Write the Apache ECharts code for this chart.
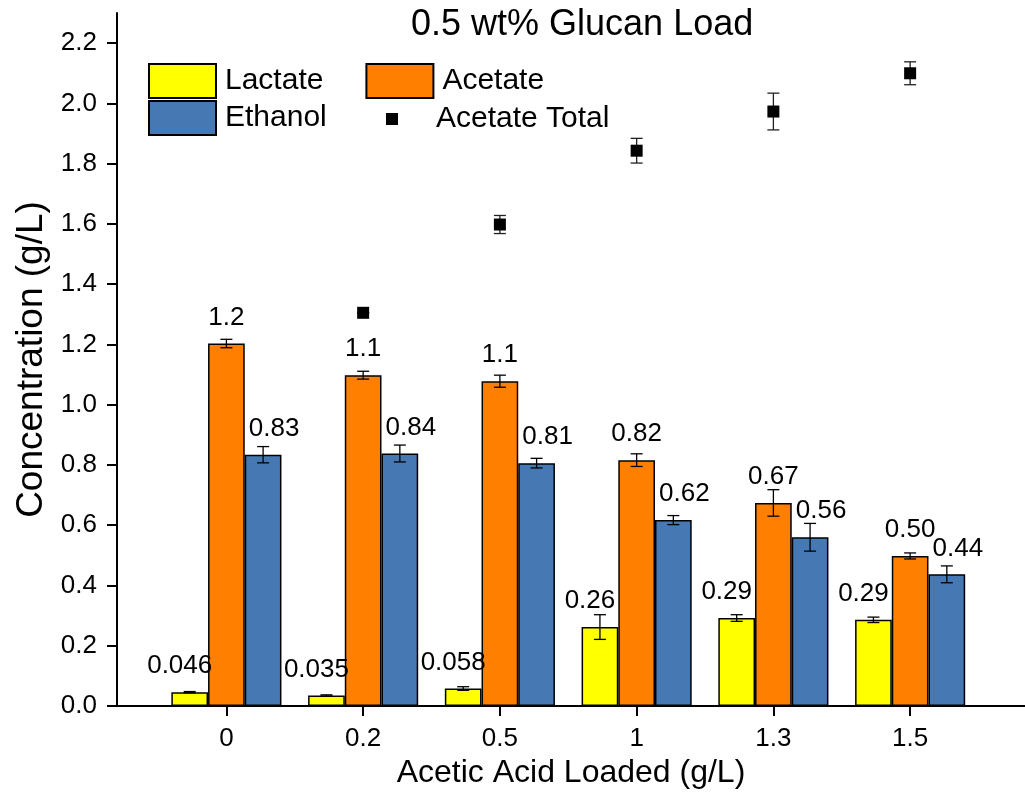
<!DOCTYPE html>
<html>
<head>
<meta charset="utf-8">
<title>0.5 wt% Glucan Load</title>
<script src="https://cdn.jsdelivr.net/npm/echarts@6/dist/echarts.min.js"></script>
<style>
  html, body { margin: 0; padding: 0; background: #fff; }
  #chart { width: 1025px; height: 795px; }
</style>
</head>
<body>
<div id="chart"></div>
<script>
// Acetic acid loading levels (g/L)
const categories = ['0', '0.2', '0.5', '1', '1.3', '1.5'];

// Product concentrations (g/L) and their standard deviations
const lactate       = [0.046, 0.035, 0.058, 0.262, 0.292, 0.286];
const lactateErr    = [0.002, 0.002, 0.006, 0.041, 0.011, 0.009];
const acetate       = [1.203, 1.098, 1.078, 0.816, 0.674, 0.498];
const acetateErr    = [0.014, 0.013, 0.020, 0.021, 0.044, 0.010];
const ethanol       = [0.834, 0.838, 0.806, 0.617, 0.560, 0.437];
const ethanolErr    = [0.027, 0.028, 0.016, 0.015, 0.046, 0.028];
const acetateTotal    = [null, 1.305, 1.598, 1.843, 1.973, 2.100];
const acetateTotalErr = [null, 0.000, 0.030, 0.041, 0.061, 0.038];

const yTicks = [0, 0.2, 0.4, 0.6, 0.8, 1.0, 1.2, 1.4, 1.6, 1.8, 2.0, 2.2];

const FONT = '"Liberation Sans", Arial, Helvetica, sans-serif';
const BAR_W = 36.7;   // px per bar
const CAP_W = 12;     // px error-bar cap

const xy = arr => arr.map((v, i) => [i, v]);
const xye = (vals, errs) => vals.map((v, i) => v == null ? [i, null, null] : [i, v, errs[i]]);

function label2sig(p) {
  return Number(p.value[1]).toPrecision(2);
}

function barSeries(name, vals, color, labelOffset) {
  return {
    name, type: 'bar', data: xy(vals), barWidth: BAR_W, barGap: '0%',
    itemStyle: { color, borderColor: '#000', borderWidth: 1.5 },
    label: {
      show: true, position: 'top', distance: 13, offset: labelOffset,
      formatter: label2sig, color: '#000', fontFamily: FONT, fontSize: 26
    },
    emphasis: { disabled: true }, z: 2
  };
}

// Vertical error bars drawn through the axes' own scales
function errorSeries(vals, errs, slot, color) {
  return {
    type: 'custom', data: xye(vals, errs), encode: { x: 0, y: 1 }, z: 6,
    silent: true,
    renderItem(params, api) {
      const v = api.value(1);
      if (v == null || isNaN(v)) return;
      const x = api.value(0), e = api.value(2);
      const cx = api.coord([x, v])[0] + slot * BAR_W;
      const yHi = api.coord([x, v + e])[1];
      const yLo = api.coord([x, v - e])[1];
      const st = { stroke: color, lineWidth: 1.3 };
      return {
        type: 'group', children: [
          { type: 'line', shape: { x1: cx, y1: yHi, x2: cx, y2: yLo }, style: st },
          { type: 'line', shape: { x1: cx - CAP_W / 2, y1: yHi, x2: cx + CAP_W / 2, y2: yHi }, style: st },
          { type: 'line', shape: { x1: cx - CAP_W / 2, y1: yLo, x2: cx + CAP_W / 2, y2: yLo }, style: st }
        ]
      };
    }
  };
}

const chart = echarts.init(document.getElementById('chart'), null, { renderer: 'canvas' });

const legendText = { color: '#000', fontFamily: FONT, fontSize: 30, padding: [0, 0, 0, 4] };

chart.setOption({
  animation: false,
  backgroundColor: '#fff',
  title: {
    text: '0.5 wt% Glucan Load', left: 411, top: 7, padding: 0,
    textStyle: { color: '#000', fontFamily: FONT, fontSize: 36, fontWeight: 'normal' }
  },
  legend: [
    { data: [{ name: 'Lactate', icon: 'rect' }, { name: 'Acetate', icon: 'rect' }],
      left: 148, top: 63, padding: 0, orient: 'horizontal',
      itemWidth: 67, itemHeight: 34, itemGap: 42, textStyle: legendText, selectedMode: false },
    { data: [{ name: 'Ethanol', icon: 'rect' }], left: 148, top: 100, padding: 0,
      itemWidth: 67, itemHeight: 34, textStyle: legendText, selectedMode: false },
    { data: [{ name: 'Acetate Total', icon: 'rect' }], left: 386, top: 104, padding: 0,
      itemWidth: 12, itemHeight: 12,
      textStyle: Object.assign({}, legendText, { padding: [0, 0, 0, 33] }), selectedMode: false }
  ],
  grid: { left: 117, right: 0, top: 13, bottom: 89, containLabel: false },
  xAxis: {
    type: 'value', min: -0.8, max: 5.84,
    name: 'Acetic Acid Loaded (g/L)', nameLocation: 'middle', nameGap: 50,
    nameTextStyle: { color: '#000', fontFamily: FONT, fontSize: 32 },
    axisLine: { show: true, onZero: false, lineStyle: { color: '#000', width: 2 } },
    axisTick: { show: true, length: 10, inside: false, customValues: [0, 1, 2, 3, 4, 5],
      lineStyle: { color: '#000', width: 2 } },
    axisLabel: { show: true, customValues: [0, 1, 2, 3, 4, 5], margin: 20,
      formatter: v => categories[Math.round(v)],
      color: '#000', fontFamily: FONT, fontSize: 26 },
    splitLine: { show: false }
  },
  yAxis: {
    type: 'value', min: 0, max: 2.3, interval: 0.2,
    name: 'Concentration (g/L)', nameLocation: 'middle', nameGap: 67,
    nameTextStyle: { color: '#000', fontFamily: FONT, fontSize: 37 },
    axisLine: { show: true, onZero: false, lineStyle: { color: '#000', width: 2 } },
    axisTick: { show: true, length: 10, customValues: yTicks, lineStyle: { color: '#000', width: 2 } },
    axisLabel: { customValues: yTicks, margin: 20, formatter: v => v.toFixed(1),
      color: '#000', fontFamily: FONT, fontSize: 26 },
    splitLine: { show: false }
  },
  series: [
    barSeries('Lactate', lactate, '#ffff00', [-10, 0]),
    barSeries('Acetate', acetate, '#ff8000', [0, 0]),
    barSeries('Ethanol', ethanol, '#4678b4', [11, 0]),
    {
      name: 'Acetate Total', type: 'scatter', data: xy(acetateTotal),
      symbol: 'rect', symbolSize: 12, itemStyle: { color: '#000', opacity: 1 }, z: 7,
      emphasis: { disabled: true }
    },
    errorSeries(lactate, lactateErr, -1, '#000'),
    errorSeries(acetate, acetateErr, 0, '#000'),
    errorSeries(ethanol, ethanolErr, 1, '#000'),
    errorSeries(acetateTotal, acetateTotalErr, 0, '#222')
  ]
});
</script>
</body>
</html>
